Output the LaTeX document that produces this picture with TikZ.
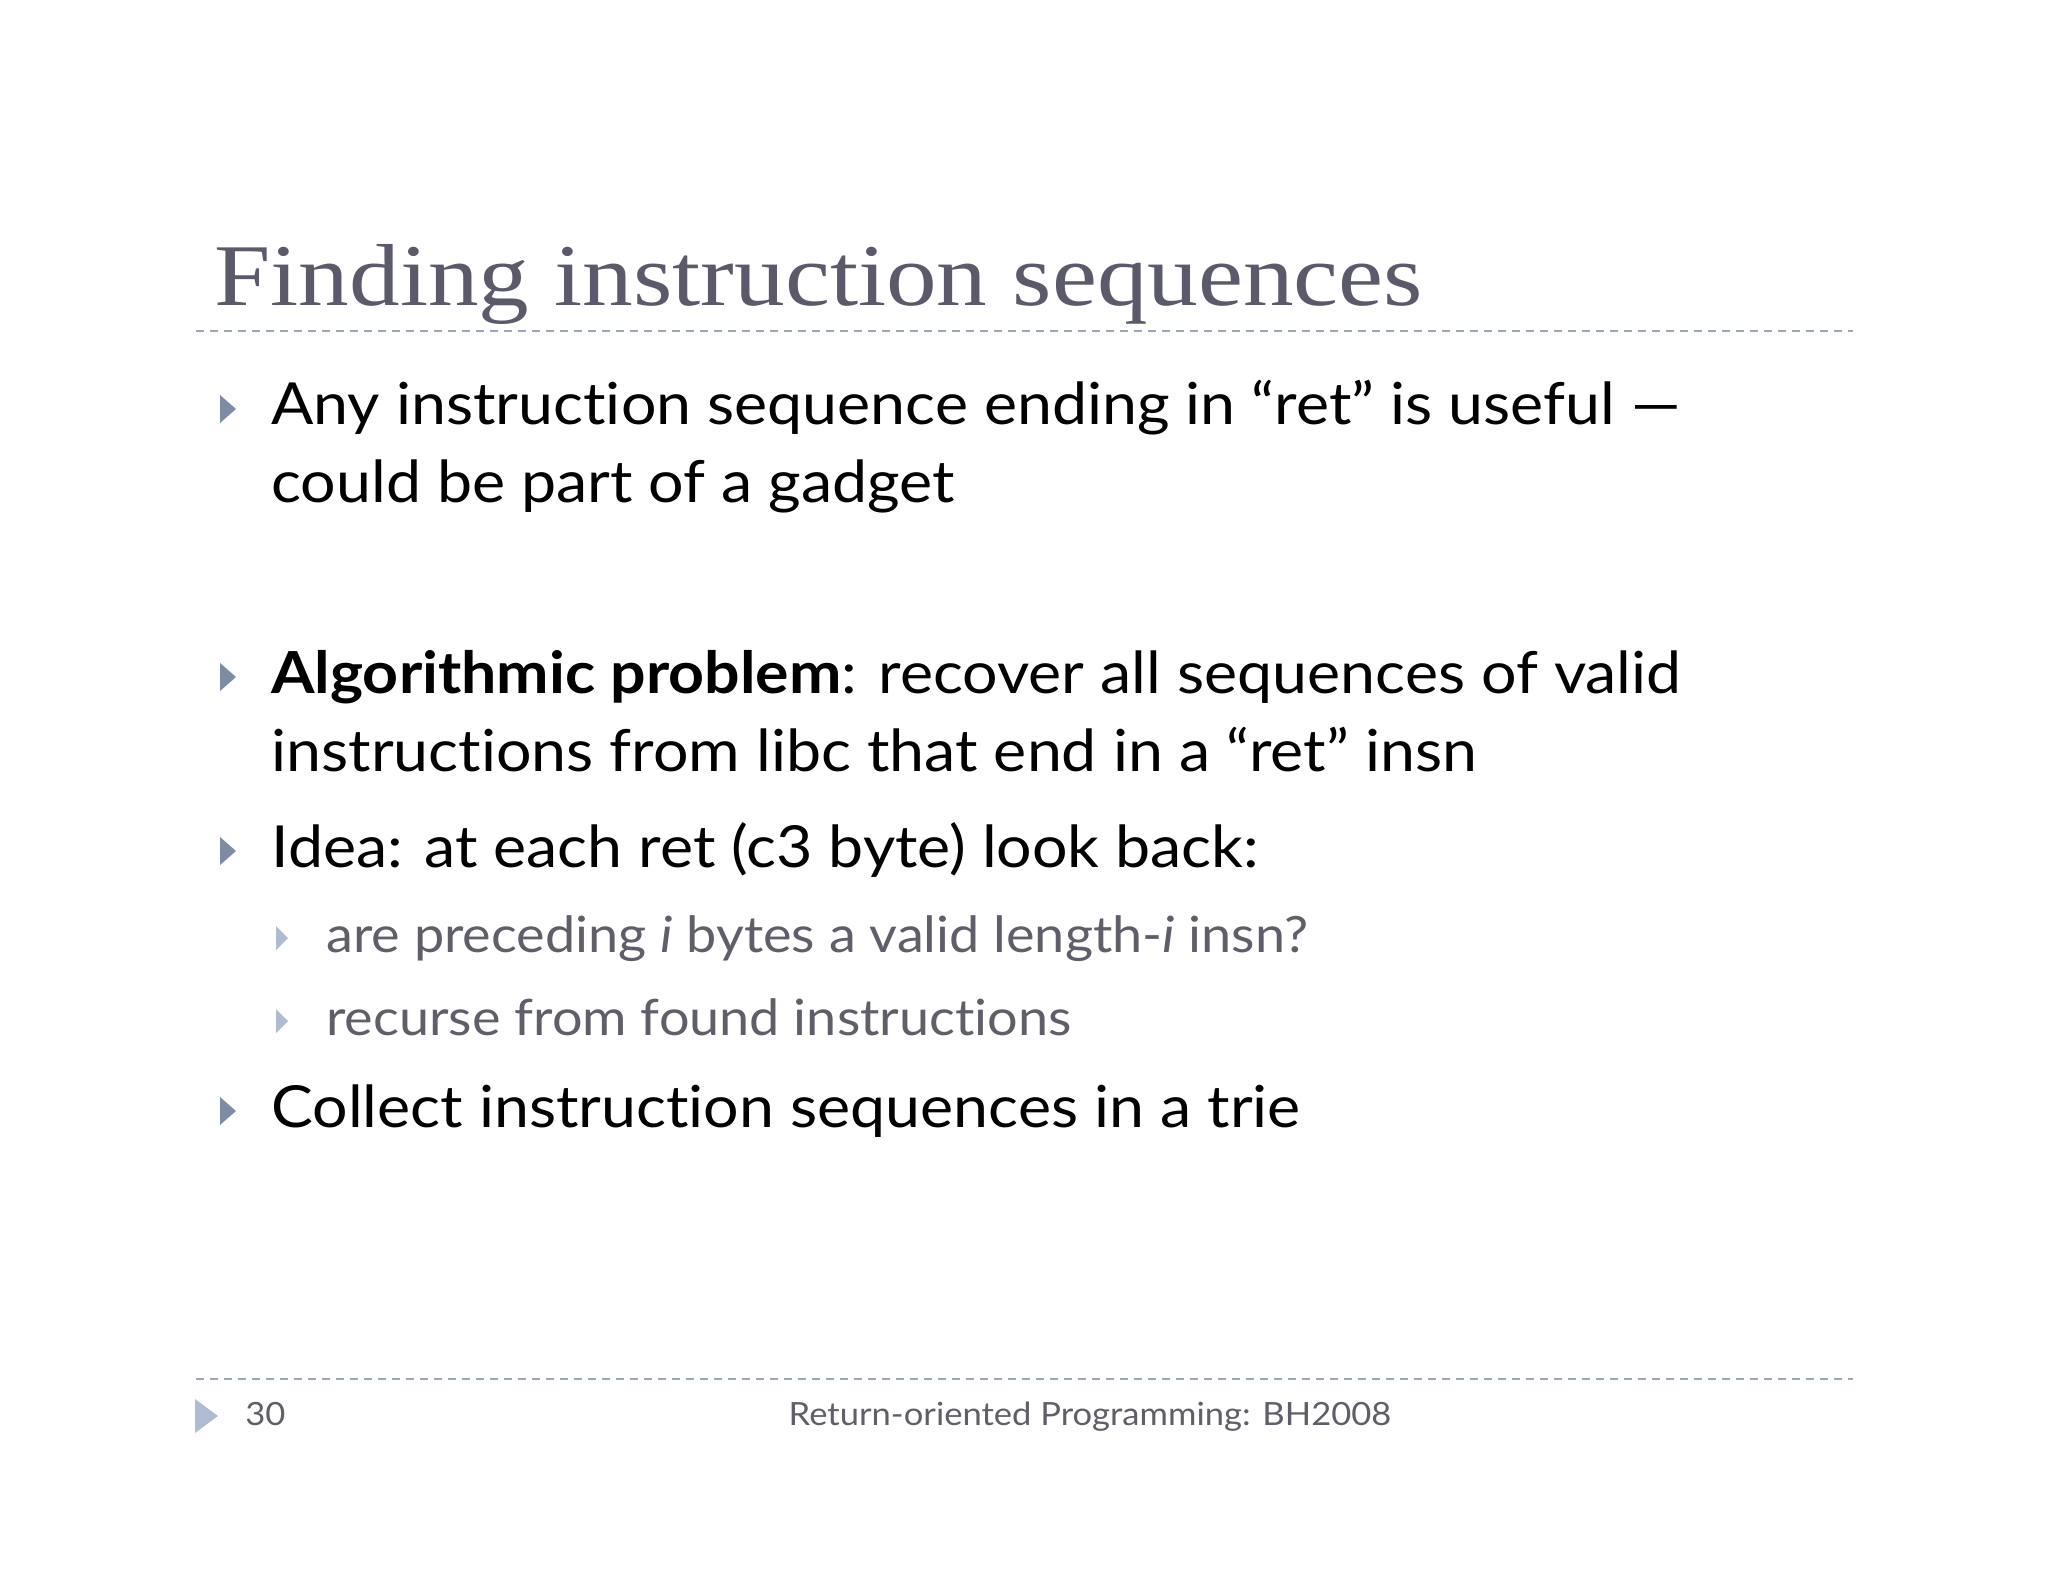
\documentclass[tikz,border=0pt]{standalone}
\usepackage{fontspec}
\setmainfont{Lato}[Ligatures=NoCommon, FakeStretch=1.08]
\newfontfamily\titlefont{Liberation Serif}[FakeStretch=1.15]
\definecolor{titlegray}{HTML}{5A5A6A}
\definecolor{subgray}{HTML}{5F5F6A}
\definecolor{bul}{HTML}{7D8CA3}
\definecolor{bullight}{HTML}{AEBBD0}
\definecolor{dash}{HTML}{9AA8BE}
\tikzset{
 txt/.style={anchor=base west,inner sep=0pt,font=\fontsize{29}{32}\selectfont},
 subtxt/.style={anchor=base west,inner sep=0pt,text=subgray,font=\fontsize{25}{28}\selectfont},
 dashline/.style={draw=dash,dash pattern=on 4pt off 3pt,line width=0.6pt}
}
\newcommand{\bullettri}[3]{\fill[#3] (#1-6,#2-30) -- (#1+10,#2-16) -- (#1-6,#2-2) -- cycle;}
\newcommand{\subtri}[2]{\fill[bullight] (#1-4,#2-26) -- (#1+8,#2-14) -- (#1-4,#2-2) -- cycle;}
\begin{document}
\begin{tikzpicture}[x=0.5pt,y=-0.5pt]
\useasboundingbox (0,0) rectangle (2048,1582);
\fill[white] (0,0) rectangle (2048,1582);
\node[anchor=base west,inner sep=0pt,text=titlegray,font=\titlefont\fontsize{44}{48}\selectfont] (title) at (214,306) {Finding instruction sequences};
\draw[dashline] (196,331) coordinate (t1) -- (1853,331) coordinate (t2);
\bullettri{226}{425}{bul}
\node[txt] (l1) at (271,425) {Any instruction sequence ending in “ret” is useful —};
\node[txt] (l2) at (271,503) {could be part of a gadget};
\bullettri{226}{693}{bul}
\node[txt] (l3) at (271,693) {\textbf{Algorithmic problem}: recover all sequences of valid};
\node[txt] (l4) at (271,771) {instructions from libc that end in a “ret” insn};
\bullettri{226}{867}{bul}
\node[txt] (l5) at (271,867) {Idea: at each ret (c3 byte) look back:};
\subtri{280}{952}
\node[subtxt] (s1) at (326,952) {are preceding \textit{i} bytes a valid length-\textit{i} insn?};
\subtri{280}{1035}
\node[subtxt] (s2) at (326,1035) {recurse from found instructions};
\bullettri{226}{1127}{bul}
\node[txt] (l6) at (271,1127) {Collect instruction sequences in a trie};
\draw[dashline] (196,1379) coordinate (f1) -- (1853,1379) coordinate (f2);
\fill[bullight] (195,1399) -- (218,1416) -- (195,1433) -- cycle;
\node[anchor=base west,inner sep=0pt,text=subgray,font=\fontsize{16}{18}\selectfont] (num) at (245,1425) {30};
\node[anchor=base,inner sep=0pt,text=subgray,font=\fontsize{16}{18}\selectfont] (foot) at (1090,1425) {Return-oriented Programming: BH2008};
\end{tikzpicture}
\end{document}
